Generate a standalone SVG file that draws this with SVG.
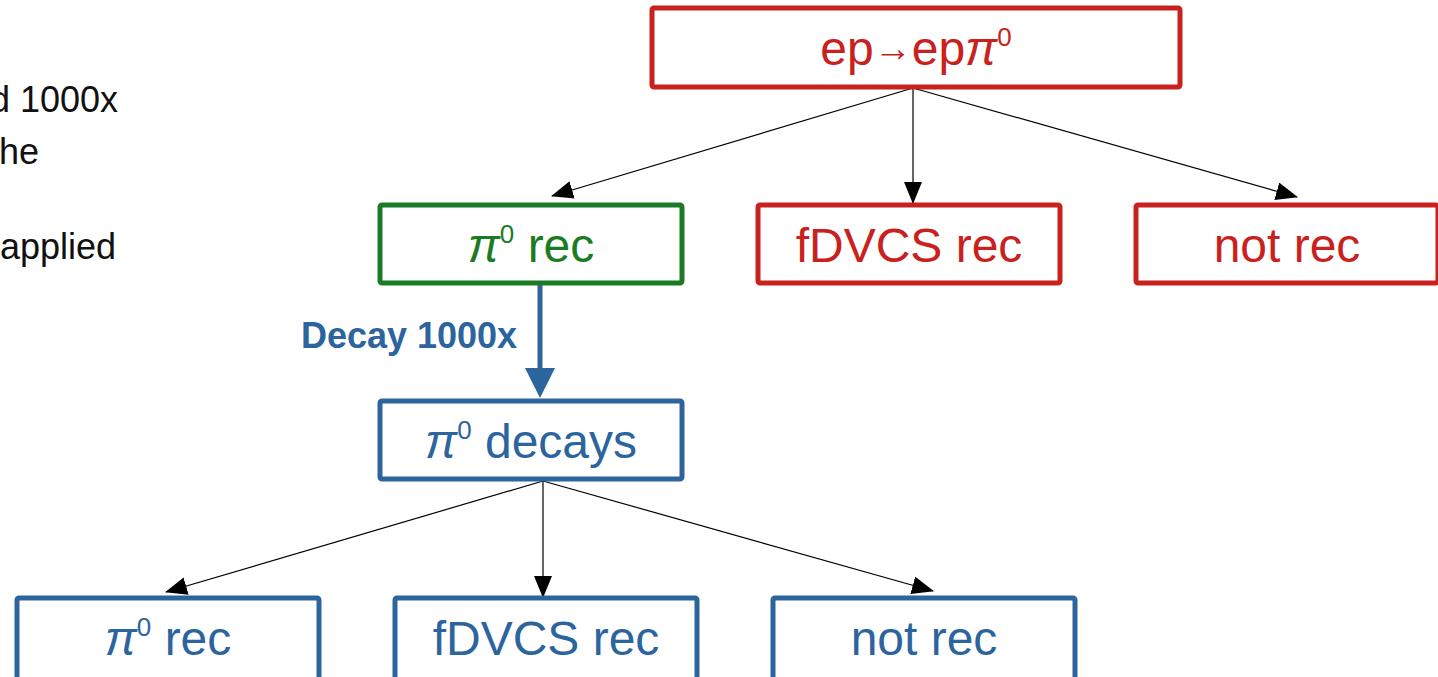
<svg xmlns="http://www.w3.org/2000/svg" width="1438" height="677" viewBox="0 0 1438 677">
<style>
text{font-family:"Liberation Sans",Arial,sans-serif}
.red rect{fill:#fff;stroke:#c9211e;stroke-width:5}
.green rect{fill:#fff;stroke:#1b7b24;stroke-width:5}
.blue rect{fill:#fff;stroke:#2c649e;stroke-width:5}
.red text{fill:#c9211e}
.green text{fill:#1b7b24}
.blue text{fill:#2c649e}
.lbl{font-size:48px;text-anchor:middle}
.sup{font-size:26px}
.pi{font-style:italic}
.side{font-size:36px;fill:#111;text-anchor:end}
.thin{stroke:#000;stroke-width:1.2;fill:none}
</style>
<defs>
<marker id="ah" markerWidth="22" markerHeight="18" refX="21" refY="9" orient="auto" markerUnits="userSpaceOnUse"><path d="M0,0 L22,9 L0,18 Z" fill="#000"/></marker>
</defs>
<rect width="1438" height="677" fill="#fff"/>
<g id="side-text">
<text class="side" x="118" y="112">d 1000x</text>
<text class="side" x="39" y="164">he</text>
<text class="side" x="116" y="259">applied</text>
</g>
<g id="connectors">
<line class="thin" x1="913" y1="88" x2="552" y2="196" marker-end="url(#ah)"/>
<line class="thin" x1="913" y1="88" x2="913" y2="203" marker-end="url(#ah)"/>
<line class="thin" x1="913" y1="88" x2="1297" y2="197" marker-end="url(#ah)"/>
<line class="thin" x1="543" y1="481" x2="166" y2="592" marker-end="url(#ah)"/>
<line class="thin" x1="543" y1="481" x2="543" y2="597" marker-end="url(#ah)"/>
<line class="thin" x1="543" y1="481" x2="933" y2="591" marker-end="url(#ah)"/>
<line x1="540" y1="285" x2="540" y2="370" stroke="#2c649e" stroke-width="5"/>
<path d="M525,368 L555,368 L540,398 Z" fill="#2c649e"/>
<text x="409" y="348" font-size="36" font-weight="bold" fill="#2c649e" text-anchor="middle">Decay 1000x</text>
</g>
<g id="n-top" class="red">
<rect x="652" y="8" width="528" height="79" rx="2"/>
<text class="lbl" x="916" y="65">ep<tspan font-size="38" dy="-4">→</tspan><tspan dy="4">ep</tspan><tspan class="pi">π</tspan><tspan class="sup" dy="-19">0</tspan></text>
</g>
<g id="n-pi0rec" class="green">
<rect x="380" y="205" width="302" height="78" rx="2"/>
<text class="lbl" x="531" y="262"><tspan class="pi">π</tspan><tspan class="sup" dy="-19">0</tspan><tspan dy="19"> rec</tspan></text>
</g>
<g id="n-fdvcs" class="red">
<rect x="758" y="205" width="302" height="78" rx="2"/>
<text class="lbl" x="909" y="262">fDVCS rec</text>
</g>
<g id="n-notrec" class="red">
<rect x="1136" y="205" width="302" height="78" rx="2"/>
<text class="lbl" x="1287" y="262">not rec</text>
</g>
<g id="n-decays" class="blue">
<rect x="380" y="401" width="302" height="78" rx="2"/>
<text class="lbl" x="531" y="458"><tspan class="pi">π</tspan><tspan class="sup" dy="-19">0</tspan><tspan dy="19"> decays</tspan></text>
</g>
<g id="n-b-pi0rec" class="blue">
<rect x="17" y="598" width="302" height="84" rx="2"/>
<text class="lbl" x="168" y="655"><tspan class="pi">π</tspan><tspan class="sup" dy="-19">0</tspan><tspan dy="19"> rec</tspan></text>
</g>
<g id="n-b-fdvcs" class="blue">
<rect x="395" y="598" width="302" height="84" rx="2"/>
<text class="lbl" x="546" y="655">fDVCS rec</text>
</g>
<g id="n-b-notrec" class="blue">
<rect x="773" y="598" width="302" height="84" rx="2"/>
<text class="lbl" x="924" y="655">not rec</text>
</g>
</svg>
